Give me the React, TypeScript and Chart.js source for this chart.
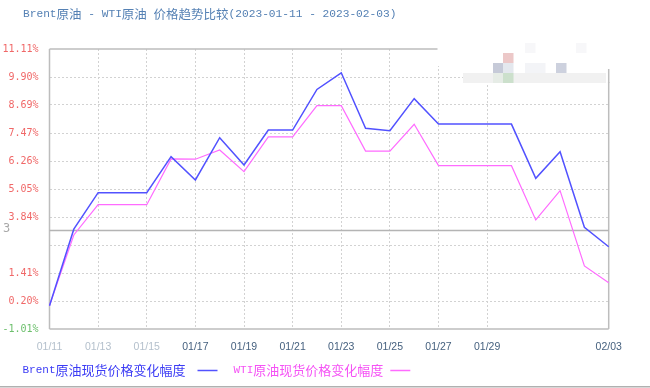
import React, { useEffect, useRef } from "react";
import { Chart, registerables } from "chart.js";

Chart.register(...registerables);

const dates = [
  "01/11", "01/12", "01/13", "01/14", "01/15", "01/16", "01/17", "01/18",
  "01/19", "01/20", "01/21", "01/22", "01/23", "01/24", "01/25", "01/26",
  "01/27", "01/28", "01/29", "01/30", "01/31", "02/01", "02/02", "02/03",
];
const brent = [
  0, 3.31, 4.89, 4.89, 4.89, 6.45, 5.44, 7.27, 6.09, 7.6, 7.6, 9.36,
  10.08, 7.68, 7.57, 8.96, 7.86, 7.86, 7.86, 7.86, 5.51, 6.66, 3.39, 2.55,
];
const wti = [
  0, 3.06, 4.37, 4.37, 4.37, 6.35, 6.34, 6.74, 5.8, 7.31, 7.31, 8.66,
  8.66, 6.69, 6.69, 7.85, 6.06, 6.06, 6.06, 6.06, 3.71, 4.98, 1.72, 0.99,
];
const xTickLabels = [
  "01/11", "01/13", "01/15", "01/17", "01/19", "01/21", "01/23", "01/25",
  "01/27", "01/29", "02/03",
];
const fadedXLabels = ["01/11", "01/13", "01/15"];
const yTickValues = [-1.01, 0.202, 1.414, 2.626, 3.838, 5.05, 6.262, 7.474, 8.686, 9.898, 11.11];
const yTickLabels = ["-1.01%", "0.20%", "1.41%", "", "3.84%", "5.05%", "6.26%", "7.47%", "8.69%", "9.90%", "11.11%"];
const baseValue = 3.25;
const baseLabel = "3";
const titleText = "Brent原油 - WTI原油 价格趋势比较(2023-01-11 - 2023-02-03)";
const seriesNames = ["Brent原油现货价格变化幅度", "WTI原油现货价格变化幅度"];

const BLUE = "#5252ff";
const PINK = "#ff6bff";
const LATIN = "'Liberation Mono', 'DejaVu Sans Mono', monospace";
const CJK = "'Noto Sans CJK SC', sans-serif";

function drawMixed(
  ctx: CanvasRenderingContext2D,
  text: string,
  x: number,
  y: number,
  latinSize: number,
  cjkSize: number,
  color: string
): number {
  const re = /[\u3000-\u9fff\uff00-\uffef]/;
  const runs: { s: string; cjk: boolean }[] = [];
  for (const ch of text) {
    const c = re.test(ch);
    if (runs.length && runs[runs.length - 1].cjk === c) runs[runs.length - 1].s += ch;
    else runs.push({ s: ch, cjk: c });
  }
  ctx.fillStyle = color;
  ctx.textBaseline = "middle";
  ctx.textAlign = "left";
  let cx = x;
  for (const r of runs) {
    ctx.font = r.cjk ? `${cjkSize}px ${CJK}` : `${latinSize}px ${LATIN}`;
    ctx.fillText(r.s, cx, y);
    cx += ctx.measureText(r.s).width;
  }
  return cx;
}

const decoPlugin = {
  id: "deco",
  beforeDatasetsDraw(chart: any) {
    const { ctx, chartArea: a, scales } = chart;
    ctx.save();
    ctx.strokeStyle = "#bdbdbd";
    ctx.lineWidth = 1.5;
    ctx.beginPath();
    ctx.moveTo(a.left, a.bottom);
    ctx.lineTo(a.left, a.top);
    ctx.moveTo(a.left, a.bottom);
    ctx.lineTo(a.right, a.bottom);
    ctx.moveTo(a.right, a.bottom);
    ctx.lineTo(a.right, a.top);
    ctx.moveTo(a.left, a.top);
    ctx.lineTo(a.right, a.top);
    ctx.stroke();
    const by = scales.y.getPixelForValue(baseValue);
    ctx.strokeStyle = "#b4b4b4";
    ctx.beginPath();
    ctx.moveTo(a.left, by);
    ctx.lineTo(a.right, by);
    ctx.stroke();
    ctx.fillStyle = "#a8a8a8";
    ctx.font = `12px 'DejaVu Sans Mono', monospace`;
    ctx.textAlign = "left";
    ctx.textBaseline = "middle";
    ctx.fillText(baseLabel, 3, by - 1.5);
    ctx.restore();
  },
  afterDraw(chart: any) {
    const { ctx, chartArea: a, width } = chart;
    ctx.save();
    // watermark patch in the top-right corner
    ctx.fillStyle = "#ffffff";
    ctx.fillRect(437.5, a.top - 4, a.right - 437.5 + 4, 21);
    ctx.fillRect(470, a.top + 17, a.right - 470 + 4, 16);
    ctx.fillStyle = "#f1f1f1";
    ctx.fillRect(463, 73, 143, 10);
    const sq = [
      [503, 53, "#ecc8c8"],
      [493, 63, "#c6cad8"],
      [503, 63, "#e4e8ee"],
      [493, 73, "#e6ece6"],
      [503, 73, "#cce0cc"],
      [556, 63, "#cdd1de"],
      [525, 63, "#f3f4f7"],
      [535, 63, "#f3f4f7"],
      [525, 43, "#f7f7f9"],
      [576, 43, "#f7f7f9"],
    ];
    for (const [x, y, c] of sq) {
      ctx.fillStyle = c as string;
      ctx.fillRect(x as number, y as number, 10.5, 10);
    }
    ctx.strokeStyle = "#bdbdbd";
    ctx.lineWidth = 1.5;
    ctx.beginPath();
    ctx.moveTo(a.right, 83);
    ctx.lineTo(a.right, a.top + 20);
    ctx.stroke();

    // title
    drawMixed(ctx, titleText, 23, 14, 11.2, 12.5, "#5581b4");

    // legend
    const ly = 370.5;
    let x = drawMixed(ctx, seriesNames[0], 22.5, ly, 11, 13, "#3c3cf5");
    ctx.strokeStyle = BLUE;
    ctx.lineWidth = 1.5;
    ctx.beginPath();
    ctx.moveTo(x + 12, ly);
    ctx.lineTo(x + 32, ly);
    ctx.stroke();
    x = drawMixed(ctx, seriesNames[1], 233.5, ly, 11, 13, "#f552f5");
    ctx.strokeStyle = PINK;
    ctx.beginPath();
    ctx.moveTo(x + 7, ly);
    ctx.lineTo(x + 27, ly);
    ctx.stroke();

    // bottom rule
    ctx.strokeStyle = "#b0b0b0";
    ctx.lineWidth = 1.5;
    ctx.beginPath();
    ctx.moveTo(0, 386.8);
    ctx.lineTo(width, 386.8);
    ctx.stroke();
    ctx.restore();
  },
};

export default function App() {
  const ref = useRef<HTMLCanvasElement>(null);
  useEffect(() => {
    if (!ref.current) return;
    const chart = new Chart(ref.current, {
      type: "line",
      data: {
        labels: dates,
        datasets: [
          {
            label: seriesNames[0],
            data: brent,
            borderColor: BLUE,
            borderWidth: 1.5,
            pointRadius: 0,
            tension: 0,
            fill: false,
          },
          {
            label: seriesNames[1],
            data: wti,
            borderColor: PINK,
            borderWidth: 1.2,
            pointRadius: 0,
            tension: 0,
            fill: false,
          },
        ],
      },
      options: {
        responsive: false,
        animation: false,
        devicePixelRatio: 1,
        layout: { padding: { left: 0, top: 49, right: 41.3, bottom: 29 } },
        plugins: {
          legend: { display: false },
          title: { display: false },
          tooltip: { enabled: false },
        },
        scales: {
          x: {
            type: "category",
            offset: false,
            afterFit: (s: any) => {
              s.height = 30;
            },
            grid: {
              drawTicks: false,
              lineWidth: 1,
              color: (c: any) => {
                const i = c.index;
                if (i === 0 || i === dates.length - 1) return "transparent";
                return xTickLabels.includes(dates[i]) ? "#d2d2d2" : "transparent";
              },
            },
            border: { display: false, dash: [2, 2] },
            ticks: {
              autoSkip: false,
              maxRotation: 0,
              padding: 12,
              font: { family: "'Liberation Sans', Arial, sans-serif", size: 10.5 },
              color: (c: any) =>
                fadedXLabels.includes(dates[c.index]) ? "#b4c0cc" : "#46617f",
              callback: (_v: any, i: number) =>
                xTickLabels.includes(dates[i]) ? dates[i] : "",
            },
          },
          y: {
            min: yTickValues[0],
            max: yTickValues[yTickValues.length - 1],
            afterFit: (s: any) => {
              s.width = 49.5;
            },
            afterBuildTicks: (s: any) => {
              s.ticks = yTickValues.map((v) => ({ value: v }));
            },
            grid: {
              drawTicks: false,
              lineWidth: 1,
              color: (c: any) =>
                c.index === 0 || c.index === yTickValues.length - 1 ? "transparent" : "#d2d2d2",
            },
            border: { display: false, dash: [2, 2] },
            ticks: {
              padding: 11,
              font: { family: "'DejaVu Sans Mono', monospace", size: 10 },
              color: (c: any) => (c.index === 0 ? "#6cbf6c" : "#f06868"),
              callback: (_v: any, i: number) => yTickLabels[i],
            },
          },
        },
      },
      plugins: [decoPlugin],
    });
    return () => chart.destroy();
  }, []);
  return (
    <div style={{ position: "absolute", left: 0, top: 0, width: 650, height: 388, background: "#fff" }}>
      <canvas ref={ref} width={650} height={388} style={{ width: 650, height: 388, display: "block" }} />
    </div>
  );
}
